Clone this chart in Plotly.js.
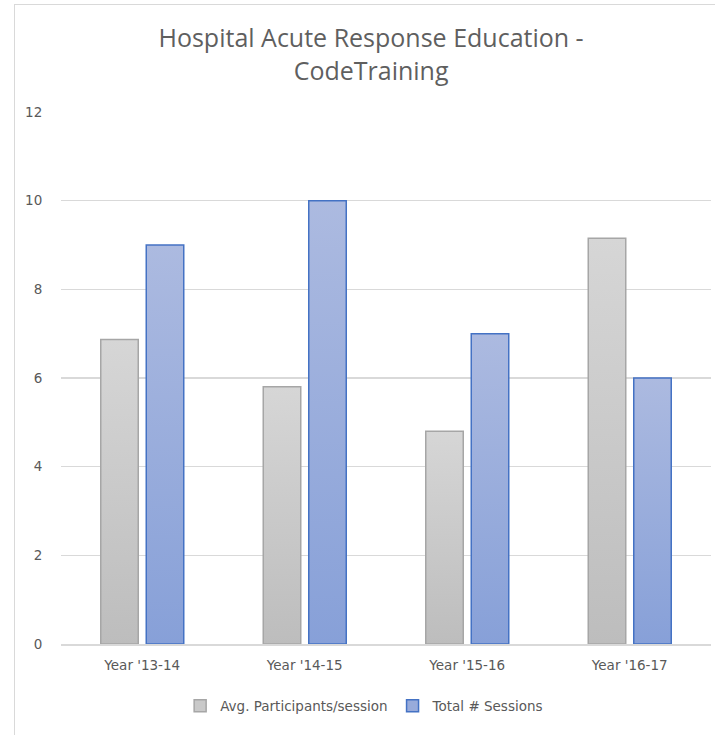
<!DOCTYPE html>
<html><head><meta charset="utf-8">
<script src="https://cdn.plot.ly/plotly-3.0.1.min.js"></script>
<style>
html,body{margin:0;padding:0;background:#fff;}
#frame{position:absolute;left:14px;top:4px;width:710px;height:740px;border:1px solid #d9d9d9;box-sizing:border-box;}
#chart{position:absolute;left:0;top:0;width:715px;height:735px;}
</style></head>
<body>
<div id="frame"></div>
<div id="chart"></div>
<script>
const categories = ["Year '13-14", "Year '14-15", "Year '15-16", "Year '16-17"];
const avgParticipants = [6.87, 5.8, 4.8, 9.15];
const totalSessions = [9, 10, 7, 6];
const seriesNames = ["Avg. Participants/session", "Total # Sessions"];
const yTicks = [0, 2, 4, 6, 8, 10, 12];

const titleFont = "Open Sans, Noto Sans, sans-serif";
const font = "DejaVu Sans, sans-serif";
const data = [
  {type:'bar', name:seriesNames[0], x:categories, y:avgParticipants,
   marker:{color:'#c9c9c9', line:{color:'#a6a6a6', width:1.5}}},
  {type:'bar', name:seriesNames[1], x:categories, y:totalSessions,
   marker:{color:'#98abdb', line:{color:'#4472c4', width:1.5}}}
];
const layout = {
  width:715, height:735,
  margin:{l:61, r:4, t:112, b:91},
  paper_bgcolor:'rgba(0,0,0,0)', plot_bgcolor:'rgba(0,0,0,0)',
  title:{text:'Hospital Acute Response Education -<br>CodeTraining', x:0.519, xref:'container',
         y:1-47/735, yref:'container', yanchor:'middle',
         font:{family:titleFont, size:25, color:'#5f5f5f'}},
  barmode:'group', bargap:0.44, bargroupgap:0.176,
  xaxis:{showgrid:false, showline:true, linecolor:'#d9d9d9', linewidth:1.5, zeroline:false,
         tickfont:{family:font, size:13.5, color:'#595959'}, ticks:'outside', ticklen:8, tickcolor:'rgba(0,0,0,0)'},
  yaxis:{range:[0,12], tickvals:yTicks, showgrid:true, gridcolor:'#d9d9d9', gridwidth:1.2, zeroline:false,
         showline:false, tickfont:{family:font, size:13.5, color:'#595959'},
         ticks:'outside', ticklen:15, tickcolor:'rgba(0,0,0,0)'},
  legend:{orientation:'h', x:0.51, xanchor:'center', xref:'container', y:1-706/735, yref:'container', yanchor:'middle',
          font:{family:font, size:13.5, color:'#595959'}, itemwidth:30, traceorder:'normal'},
  showlegend:true
};
Plotly.newPlot('chart', data, layout, {displayModeBar:false, staticPlot:true}).then(function(gd){
  const svg = gd.querySelector('svg.main-svg');
  const ns = 'http://www.w3.org/2000/svg';
  const defs = document.createElementNS(ns,'defs');
  function grad(id, c1, c2){
    const g = document.createElementNS(ns,'linearGradient');
    g.setAttribute('id', id); g.setAttribute('x1','0'); g.setAttribute('y1','0'); g.setAttribute('x2','0'); g.setAttribute('y2','1');
    [[0,c1],[1,c2]].forEach(function(s){
      const st = document.createElementNS(ns,'stop');
      st.setAttribute('offset', s[0]); st.setAttribute('stop-color', s[1]);
      g.appendChild(st);
    });
    defs.appendChild(g);
  }
  grad('gGray', '#d6d6d6', '#bdbdbd');
  grad('gBlue', '#acbae0', '#87a0d8');
  svg.insertBefore(defs, svg.firstChild);
  const traces = gd.querySelectorAll('.barlayer .trace');
  const ids = ['gGray','gBlue'];
  traces.forEach(function(t, i){
    t.querySelectorAll('path').forEach(function(p){ p.style.fill = 'url(#' + ids[i] + ')'; });
  });
});
</script>
</body></html>
